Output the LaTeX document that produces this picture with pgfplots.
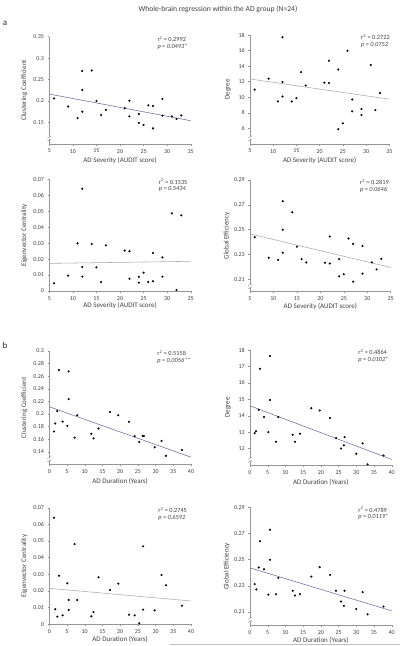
\documentclass[border=0pt]{standalone}
\usepackage{pgfplots}
\pgfplotsset{compat=1.18}
\usepackage{fontspec}
\setmainfont{Carlito}
\definecolor{axisgray}{RGB}{150,150,150}
\definecolor{fitblue}{RGB}{100,110,170}
\definecolor{fitgray}{RGB}{170,170,170}
\definecolor{txt}{RGB}{64,64,64}
\pgfplotsset{
  panel/.style={
    scale only axis, clip=false,
    axis x line*=bottom, axis y line*=left,
    axis line style={draw=axisgray, line width=0.5pt},
    tick style={draw=axisgray, line width=0.4pt},
    tick align=outside, major tick length=1.8pt,
    scaled ticks=false,
    tick label style={font=\fontsize{6}{7}\selectfont, text=txt,
      /pgf/number format/assume math mode=true,
      /pgf/number format/fixed, /pgf/number format/precision=3},
    label style={font=\fontsize{7}{8}\selectfont, text=txt},
  },
  dots/.style={only marks, mark=*, mark size=0.85pt, draw=black, fill=black},
  fit/.style={no marks, line width=0.55pt, #1},
}
\newcommand{\brk}{%
  \fill[white] ([xshift=-1.2pt,yshift=4.3pt]rel axis cs:0,0) rectangle ([xshift=1.2pt,yshift=6.7pt]rel axis cs:0,0);
  \draw[axisgray,line width=0.45pt] ([xshift=-2pt,yshift=2.6pt]rel axis cs:0,0) -- ([xshift=2pt,yshift=5pt]rel axis cs:0,0);
  \draw[axisgray,line width=0.45pt] ([xshift=-2pt,yshift=5.6pt]rel axis cs:0,0) -- ([xshift=2pt,yshift=8pt]rel axis cs:0,0);
}
\newcommand{\stat}[4]{%
  \node[anchor=north west, inner sep=0pt, align=left, text=txt,
        font=\fontsize{6.3}{6.6}\selectfont]
    at ([yshift=0.6pt]rel axis cs:#1,1) {r\textsuperscript{2} = #2\\\textit{p = #3#4}};
}
\begin{document}
\begin{tikzpicture}
\useasboundingbox (0pt,0pt) rectangle (400pt,646pt);
\node[text=txt, font=\fontsize{7.6}{9}\selectfont] at (218pt,637pt) {Whole-brain regression within the AD group (N=24)};
\node[font=\fontsize{9}{10}\selectfont, text=black!85] at (5pt,623pt) {a};
\node[font=\fontsize{9}{10}\selectfont, text=black!85] at (5pt,301pt) {b};
\draw[black!25, line width=0.5pt] (170pt,2pt) -- (400pt,2pt);

% ---------- a1 ----------
\begin{axis}[panel, at={(49.3pt,502.2pt)}, anchor=south west,
  width=141.4pt, height=107.1pt,
  xmin=5, xmax=35, ymin=0.1, ymax=0.35,
  xtick={5,10,15,20,25,30,35}, ytick={0.15,0.2,0.25,0.3,0.35},
  xlabel={AD Severity (AUDIT score)}, ylabel={Clustering Coefficient},
  xlabel style={at={([yshift=-16.5pt]axis description cs:0.5,0)}, anchor=center},
  ylabel style={at={([xshift=-25pt]axis description cs:0,0.5)}, anchor=center}]
\addplot[fit=fitblue] coordinates {(5,0.2161) (35,0.1539)};
\addplot[dots] coordinates {
(6,0.206) (9,0.187) (11,0.160) (12,0.270) (12,0.2255) (12,0.175)
(14,0.271) (15,0.200) (16,0.167) (17,0.179) (21,0.183) (22,0.2006)
(22,0.164) (24,0.1695) (24,0.149) (25,0.144) (26,0.1897) (27,0.188)
(27,0.136) (29,0.205) (29,0.1656) (31,0.164) (32,0.158) (33,0.1663)};
\brk
\stat{0.764}{0.2992}{0.0493}{*}
\end{axis}

% ---------- a2 ----------
\begin{axis}[panel, at={(250pt,502.2pt)}, anchor=south west,
  width=139.3pt, height=108.8pt,
  xmin=5, xmax=35, ymin=4, ymax=18,
  xtick={5,10,15,20,25,30,35}, ytick={6,8,10,12,14,16,18},
  xlabel={AD Severity (AUDIT score)}, ylabel={Degree},
  xlabel style={at={([yshift=-16.5pt]axis description cs:0.5,0)}, anchor=center},
  ylabel style={at={([xshift=-22pt]axis description cs:0,0.5)}, anchor=center}]
\addplot[fit=fitgray] coordinates {(5,12.34) (35,9.74)};
\addplot[dots] coordinates {
(6,10.98) (9,12.38) (11,9.45) (12,17.70) (12,11.96) (12,10.09)
(14,9.45) (15,9.87) (16,13.23) (17,11.49) (21,11.87) (22,14.68)
(22,11.83) (24,13.57) (24,5.87) (25,6.64) (26,15.96) (27,9.70)
(27,8.17) (29,8.47) (29,7.70) (31,14.13) (32,8.34) (33,10.55)};
\brk
\stat{0.797}{0.2722}{0.0752}{}
\end{axis}

% ---------- a3 ----------
\begin{axis}[panel, at={(49.3pt,355pt)}, anchor=south west,
  width=141.4pt, height=111.7pt,
  xmin=5, xmax=35, ymin=0, ymax=0.07,
  xtick={5,10,15,20,25,30,35}, ytick={0,0.01,0.02,0.03,0.04,0.05,0.06,0.07},
  xlabel={AD Severity (AUDIT score)}, ylabel={Eigenvector Centrality},
  xlabel style={at={([yshift=-15pt]axis description cs:0.5,0)}, anchor=center},
  ylabel style={at={([xshift=-25pt]axis description cs:0,0.5)}, anchor=center}]
\addplot[fit=fitgray] coordinates {(5,0.0173) (35,0.0186)};
\addplot[dots] coordinates {
(6,0.0048) (9,0.0096) (11,0.0299) (12,0.0641) (12,0.0150) (12,0.0090)
(14,0.0295) (15,0.0148) (16,0.0056) (17,0.0286) (21,0.0253) (22,0.0249)
(22,0.0077) (24,0.0088) (24,0.0052) (25,0.0115) (26,0.0056) (27,0.0238)
(27,0.0061) (29,0.0211) (29,0.0090) (31,0.0487) (32,0.0006) (33,0.0474)};
\stat{0.774}{0.1535}{0.5434}{}
\end{axis}

% ---------- a4 ----------
\begin{axis}[panel, at={(250pt,354.3pt)}, anchor=south west,
  width=140.7pt, height=111.7pt,
  xmin=5, xmax=35, ymin=0.2, ymax=0.29,
  xtick={5,10,15,20,25,30,35}, ytick={0.21,0.23,0.25,0.27,0.29},
  xlabel={AD Severity (AUDIT score)}, ylabel={Global Efficiency},
  xlabel style={at={([yshift=-15pt]axis description cs:0.5,0)}, anchor=center},
  ylabel style={at={([xshift=-23.3pt]axis description cs:0,0.5)}, anchor=center}]
\addplot[fit=fitgray] coordinates {(5,0.2466) (35,0.2195)};
\addplot[dots] coordinates {
(6,0.2439) (9,0.2274) (11,0.2257) (12,0.2729) (12,0.2499) (12,0.2314)
(14,0.2640) (15,0.2363) (16,0.2263) (17,0.2236) (21,0.2233) (22,0.2227)
(22,0.2444) (24,0.2263) (24,0.2124) (25,0.2141) (26,0.2428) (27,0.2385)
(27,0.2081) (29,0.2368) (29,0.2146) (31,0.2236) (32,0.2179) (33,0.2265)};
\brk
\stat{0.782}{0.2819}{0.0646}{}
\end{axis}

% ---------- b1 ----------
\begin{axis}[panel, at={(49.3pt,181.5pt)}, anchor=south west,
  width=141.7pt, height=113.5pt,
  xmin=0, xmax=40, ymin=0.12, ymax=0.3,
  xtick={0,5,10,15,20,25,30,35,40}, ytick={0.14,0.16,0.18,0.2,0.22,0.24,0.26,0.28,0.3},
  xlabel={AD Duration (Years)}, ylabel={Clustering Coefficient},
  xlabel style={at={([yshift=-17pt]axis description cs:0.5,0)}, anchor=center},
  ylabel style={at={([xshift=-25pt]axis description cs:0,0.5)}, anchor=center}]
\addplot[fit=fitblue] coordinates {(0,0.2116) (40,0.1316)};
\addplot[dots] coordinates {
(1.32,0.1724) (1.69,0.185) (2.26,0.2048) (2.73,0.2697) (3.76,0.1881) (5.08,0.1813)
(5.46,0.2676) (5.46,0.2237) (7.15,0.1625) (7.9,0.1981) (11.86,0.1688) (12.5,0.1614)
(13.9,0.1771) (17.13,0.2033) (19.48,0.1981) (22.5,0.1877) (24.09,0.1651) (25.4,0.1557)
(26.35,0.1655) (26.7,0.1650) (29.74,0.1473) (31.7,0.1573) (32.94,0.1337) (37.46,0.1431)};
\brk
\stat{0.762}{0.5158}{0.0056}{**}
\end{axis}

% ---------- b2 ----------
\begin{axis}[panel, at={(250pt,181pt)}, anchor=south west,
  width=141.7pt, height=115pt,
  xmin=0, xmax=40, ymin=11, ymax=18,
  xtick={0,5,10,15,20,25,30,35,40}, ytick={12,13,14,15,16,17,18},
  xlabel={AD Duration (Years)}, ylabel={Degree},
  xlabel style={at={([yshift=-17pt]axis description cs:0.5,0)}, anchor=center},
  ylabel style={at={([xshift=-22pt]axis description cs:0,0.5)}, anchor=center}]
\addplot[fit=fitblue] coordinates {(0,14.6) (40,11.34)};
\addplot[dots] coordinates {
(1.32,12.94) (1.69,13.06) (2.45,14.36) (2.82,16.86) (3.95,13.92) (5.18,13.0)
(5.65,17.64) (5.65,14.96) (7.34,12.42) (8.0,13.92) (12.05,12.84) (12.7,12.42)
(14.1,12.9) (17.3,14.46) (19.67,14.32) (22.6,13.86) (24.3,12.64) (25.7,12.0)
(26.5,12.2) (26.7,12.7) (30.0,11.68) (31.8,12.32) (33.2,11.04) (37.7,11.58)};
\brk
\stat{0.764}{0.4864}{0.0102}{*}
\end{axis}

% ---------- b3 ----------
\begin{axis}[panel, at={(49.3pt,21.7pt)}, anchor=south west,
  width=141.7pt, height=116.6pt,
  xmin=0, xmax=40, ymin=0, ymax=0.07,
  xtick={0,5,10,15,20,25,30,35,40}, ytick={0,0.01,0.02,0.03,0.04,0.05,0.06,0.07},
  xlabel={AD Duration (Years)}, ylabel={Eigenvector Centrality},
  xlabel style={at={([yshift=-15pt]axis description cs:0.5,0)}, anchor=center},
  ylabel style={at={([xshift=-25pt]axis description cs:0,0.5)}, anchor=center}]
\addplot[fit=fitgray] coordinates {(0,0.0216) (40,0.014)};
\addplot[dots] coordinates {
(1.32,0.064) (1.69,0.009) (2.26,0.0046) (2.73,0.0292) (3.76,0.0054) (5.08,0.0246)
(5.46,0.0146) (5.46,0.0086) (7.15,0.0482) (7.9,0.0146) (11.86,0.0048) (12.5,0.0074)
(13.9,0.0282) (17.13,0.0206) (19.48,0.0244) (22.5,0.0058) (24.09,0.0054) (25.4,0.0006)
(26.5,0.0088) (26.5,0.0468) (29.74,0.0084) (31.7,0.0296) (32.94,0.0234) (37.46,0.0112)};
\stat{0.769}{0.2745}{0.6592}{}
\end{axis}

% ---------- b4 ----------
\begin{axis}[panel, at={(250pt,21pt)}, anchor=south west,
  width=141.7pt, height=117.7pt,
  xmin=0, xmax=40, ymin=0.2, ymax=0.29,
  xtick={0,5,10,15,20,25,30,35,40}, ytick={0.21,0.23,0.25,0.27,0.29},
  xlabel={AD Duration (Years)}, ylabel={Global Efficiency},
  xlabel style={at={([yshift=-15pt]axis description cs:0.5,0)}, anchor=center},
  ylabel style={at={([xshift=-23.3pt]axis description cs:0,0.5)}, anchor=center}]
\addplot[fit=fitblue] coordinates {(0,0.2437) (40,0.2108)};
\addplot[dots] coordinates {
(1.32,0.2313) (1.79,0.2272) (2.45,0.2440) (2.82,0.2640) (3.95,0.2427) (5.18,0.2232)
(5.65,0.2728) (5.65,0.2499) (7.34,0.2236) (8.0,0.236) (12.05,0.2262) (12.7,0.2226)
(14.1,0.2236) (17.3,0.2370) (19.67,0.2442) (22.6,0.2383) (24.3,0.2262) (25.7,0.2180)
(26.5,0.2146) (26.7,0.2262) (30.0,0.2123) (31.8,0.2252) (33.2,0.2082) (37.7,0.2141)};
\brk
\stat{0.764}{0.4789}{0.0119}{*}
\end{axis}
\end{tikzpicture}
\end{document}
